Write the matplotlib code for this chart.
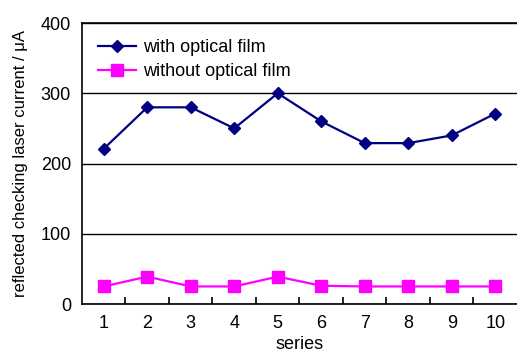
import numpy as np
import matplotlib.pyplot as plt
from matplotlib import font_manager

series = [1, 2, 3, 4, 5, 6, 7, 8, 9, 10]
with_film = [221, 280, 280, 250, 300, 260, 229, 229, 240, 271]
without_film = [25, 39, 25, 25, 39, 26, 25, 25, 25, 25]

names = {f.name for f in font_manager.fontManager.ttflist}
fam = ["Liberation Sans Narrow", "Liberation Sans", "DejaVu Sans"]
plt.rcParams["font.family"] = [f for f in fam if f in names] or ["DejaVu Sans"]

fig = plt.figure(figsize=(5.17, 3.54), dpi=100)
ax = fig.add_axes([0.1586, 0.1412, 0.8414, 0.7938])

ax.plot(series, with_film, color="#000080", marker="D", ms=6, lw=1.6,
        label="with optical film")
ax.plot(series, without_film, color="#FF00FF", marker="s", ms=8, lw=1.6,
        label="without optical film")

ax.set_xlim(0.5, 10.5)
ax.set_ylim(0, 400)
ax.set_yticks([0, 100, 200, 300, 400])
ax.yaxis.grid(True, color="black", lw=1)
ax.set_axisbelow(True)
ax.tick_params(axis="y", length=0, labelsize=13, pad=8)
ax.set_xticks(series)
ax.tick_params(axis="x", length=0, labelsize=13, pad=8)
ax.set_xticks(np.arange(1.5, 10, 1), minor=True)
ax.tick_params(axis="x", which="minor", direction="in", length=5, width=1.2)
ax.spines["right"].set_visible(False)
for s in ["left", "top", "bottom"]:
    ax.spines[s].set_linewidth(1.2)

ax.set_xlabel("series", fontsize=13, labelpad=3)
ax.set_ylabel("reflected checking laser current / μA", fontsize=12, labelpad=9)

ax.legend(loc="upper left", frameon=False, fontsize=13, handlelength=2.1,
          bbox_to_anchor=(0.0, 1.0), labelspacing=0.4, handletextpad=0.4)

fig.savefig("out.png", dpi=100)
